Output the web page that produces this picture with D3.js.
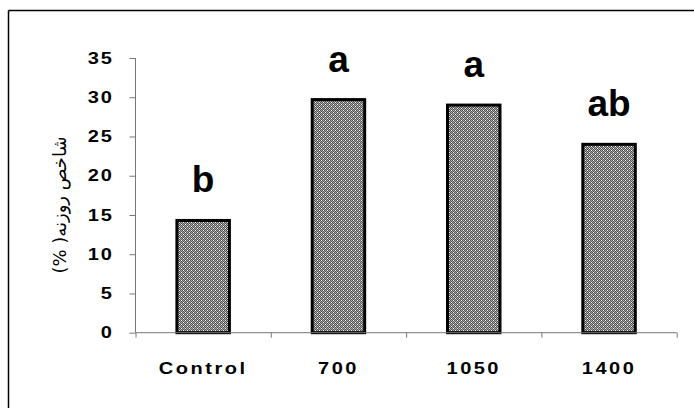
<!DOCTYPE html>
<html>
<head>
<meta charset="utf-8">
<script src="https://cdn.jsdelivr.net/npm/d3@7"></script>
<style>
  html, body { margin: 0; padding: 0; background: #fff; }
  svg { display: block; }
</style>
</head>
<body>
<svg id="chart" width="694" height="408"></svg>
<script>
// ---- data ----
const categories = ["Control", "700", "1050", "1400"];
const values = [14.3, 29.7, 29.0, 24.0];
const letters = ["b", "a", "a", "ab"];
const yTicks = [0, 5, 10, 15, 20, 25, 30, 35];
const yTitle = "(% )شاخص روزنه";

const svg = d3.select("#chart");
const W = 694, H = 408;

// frame
svg.append("line").attr("x1", 8.5).attr("y1", 10.5).attr("x2", W).attr("y2", 10.5)
  .attr("stroke", "#000").attr("stroke-width", 1.5);
svg.append("line").attr("x1", 8.5).attr("y1", 10.5).attr("x2", 8.5).attr("y2", H)
  .attr("stroke", "#000").attr("stroke-width", 1.5);

// pattern
const defs = svg.append("defs");
const pat = defs.append("pattern").attr("id", "dots").attr("patternUnits", "userSpaceOnUse")
  .attr("width", 4).attr("height", 4);
pat.append("rect").attr("width", 4).attr("height", 4).attr("fill", "#a8a8a8");
[[0,0],[2,0],[1,1],[3,1],[0,2],[2,2],[1,3],[3,3]].forEach(([x,y]) =>
  pat.append("rect").attr("x", x).attr("y", y).attr("width", 1).attr("height", 1).attr("fill", "#505050"));
[[1,0],[3,2]].forEach(([x,y]) =>
  pat.append("rect").attr("x", x).attr("y", y).attr("width", 1).attr("height", 1).attr("fill", "#fff"));

const x0 = 135.5, x1 = 676.7, yBase = 332.7, yTop = 58;
const x = d3.scaleBand().domain(categories).range([x0, x1]).paddingInner(0.59).paddingOuter(0.295);
const xb = d3.scaleLinear().domain([0, categories.length]).range([x0, x1]);
const y = d3.scaleLinear().domain([0, 35]).range([yBase, yTop]);

const FS = 1.25; // horizontal stretch of axis labels

// bars
svg.append("g").selectAll("rect").data(values).join("rect")
  .attr("x", (d, i) => x(categories[i]) + 1.5)
  .attr("width", x.bandwidth() - 3)
  .attr("y", d => y(d))
  .attr("height", d => yBase - y(d))
  .attr("fill", "url(#dots)")
  .attr("stroke", "#000").attr("stroke-width", 3);

// y axis
const gy = svg.append("g").attr("transform", `translate(${x0},0)`)
  .call(d3.axisLeft(y).tickValues(yTicks).tickSize(6).tickPadding(0).tickFormat(d3.format("d")));
gy.select(".domain").attr("stroke", "#777").attr("d", `M0,${yTop}V${yBase}`);
gy.selectAll(".tick line").attr("stroke", "#777");
gy.selectAll(".tick text")
  .attr("font-family", "Liberation Sans, Arial, sans-serif")
  .attr("font-weight", "bold").attr("font-size", 16)
  .attr("letter-spacing", 1.5)
  .attr("fill", "#000")
  .attr("x", -17.5)
  .attr("transform", `scale(${FS},1)`);

// x axis baseline + boundary ticks
const gx = svg.append("g").attr("transform", `translate(0,${yBase})`)
  .call(d3.axisBottom(xb).ticks(categories.length).tickSize(5).tickFormat(""));
gx.select(".domain").attr("stroke", "#777").attr("d", `M${x0},0H${x1}`);
gx.selectAll(".tick line").attr("stroke", "#777");

// x labels
const gxl = svg.append("g").attr("transform", `translate(0,${yBase})`)
  .call(d3.axisBottom(x).tickSize(0));
gxl.select(".domain").remove();
gxl.selectAll(".tick text")
  .attr("font-family", "Liberation Sans, Arial, sans-serif")
  .attr("font-weight", "bold").attr("font-size", 16)
  .attr("letter-spacing", 2)
  .attr("fill", "#000")
  .attr("dy", 0).attr("y", 41)
  .attr("x", 0)
  .attr("transform", `scale(${FS},1)`);

// letters
svg.append("g").selectAll("text").data(values).join("text")
  .attr("x", (d, i) => x(categories[i]) + x.bandwidth() / 2)
  .attr("y", d => y(d) - 28)
  .attr("text-anchor", "middle")
  .attr("font-family", "Liberation Sans, Arial, sans-serif")
  .attr("font-weight", "bold").attr("font-size", 37)
  .attr("fill", "#000")
  .text((d, i) => letters[i]);

// y title
svg.append("text")
  .attr("transform", `translate(66,205) rotate(-90)`)
  .attr("text-anchor", "middle")
  .attr("font-family", "DejaVu Sans, sans-serif")
  .attr("font-size", 18)
  .attr("fill", "#000")
  .text(yTitle);
</script>
</body>
</html>
